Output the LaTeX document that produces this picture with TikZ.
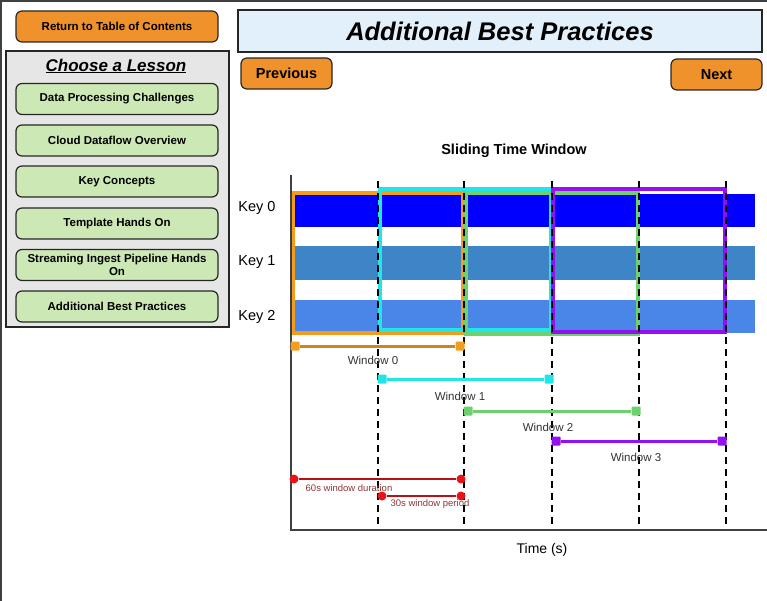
\documentclass[tikz,border=0pt]{standalone}
\usepackage{fontspec}
\setmainfont{Liberation Sans}

\definecolor{arancio}{HTML}{F0922B}
\definecolor{verdino}{HTML}{CCE8B5}
\definecolor{grigino}{HTML}{E6E6E6}
\definecolor{azzurrino}{HTML}{E2F0FB}
\definecolor{chiave0}{HTML}{0000FF}
\definecolor{chiave1}{HTML}{3D85C6}
\definecolor{chiave2}{HTML}{4A86E8}
\definecolor{fin0}{HTML}{F39C1E}
\definecolor{fin1}{HTML}{22E5EA}
\definecolor{fin2}{HTML}{6DD170}
\definecolor{fin3}{HTML}{9410F0}
\definecolor{rosso}{HTML}{E8141A}
\definecolor{rossoscuro}{HTML}{8E3434}

\begin{document}
\begin{tikzpicture}[x=1pt, y=-1pt]
				% Stili della pagina
				\tikzset{bottone/.style={draw=black!85, line width=1.2pt, rounded corners=6pt, align=center, inner sep=0pt, minimum width=202pt, minimum height=31pt, font=\bfseries\fontsize{11.5}{13}\selectfont},
					lezione/.style={bottone, fill=verdino},
					navig/.style={bottone, fill=arancio, minimum width=91pt, font=\bfseries\fontsize{14.5}{16}\selectfont},
					finestra/.style={line width=4.2pt, line join=miter},
					estremo/.style={rectangle, rounded corners=1pt, minimum size=9pt, inner sep=0pt},
					pallino/.style={circle, fill=rosso, minimum size=9pt, inner sep=0pt},
					etfin/.style={text=black!80, font=\fontsize{11.5}{13}\selectfont},
					etrosso/.style={text=rossoscuro, font=\fontsize{9.5}{11}\selectfont, inner sep=0pt}}
				
				\useasboundingbox (0,0) rectangle (767,601);
				
				% Bordi della finestra
				\draw[line width=2.5pt, black!75] (1,601) -- (1,1) -- (767,1);
				
				% Colonna di sinistra
				\node[bottone, fill=arancio] (ritorno) at (117,26.5) {Return to Table of Contents};
				\node[draw=black!85, line width=1.8pt, fill=grigino, minimum width=223pt, minimum height=276pt, inner sep=0pt] (pannello) at (117.5,189) {};
				\node[font=\bfseries\itshape\fontsize{17}{19}\selectfont] (scegli) at (116,66) {\underline{Choose a Lesson}};
				\node[lezione] (lez1) at (117,99) {Data Processing Challenges};
				\node[lezione] (lez2) at (117,140.5) {Cloud Dataflow Overview};
				\node[lezione] (lez3) at (117,181.5) {Key Concepts};
				\node[lezione] (lez4) at (117,223.5) {Template Hands On};
				\node[lezione] (lez5) at (117,265) {Streaming Ingest Pipeline Hands\\On};
				\node[lezione] (lez6) at (117,306.5) {Additional Best Practices};
				
				% Intestazione
				\node[draw=black!85, line width=1.5pt, fill=azzurrino, minimum width=524pt, minimum height=42pt, font=\bfseries\itshape\fontsize{25.5}{28}\selectfont] (titolo) at (500,31) {Additional Best Practices};
				\node[navig] (prec) at (286.5,73.5) {Previous};
				\node[navig] (succ) at (716.5,74.5) {Next};
				
				% Grafico: finestra temporale scorrevole
				\node[font=\bfseries\fontsize{14.5}{16}\selectfont] (titgraf) at (514,151) {Sliding Time Window};
				
				\fill[chiave0] (293,194) rectangle (755,227);
				\fill[chiave1] (293,246) rectangle (755,280);
				\fill[chiave2] (293,300) rectangle (755,333);
				\node[font=\fontsize{14.5}{16}\selectfont] (k0) at (257,208) {Key 0};
				\node[font=\fontsize{14.5}{16}\selectfont] (k1) at (257,262) {Key 1};
				\node[font=\fontsize{14.5}{16}\selectfont] (k2) at (257,317) {Key 2};
				
				% Riquadri delle finestre
				\draw[finestra, fin0] (292.5,193) rectangle (463,333);
				\draw[finestra, fin1] (380,189) rectangle (551,330);
				\draw[finestra, fin2] (466,193) rectangle (638,334);
				\draw[finestra, fin3] (553,189) rectangle (725,332);
				
				% Assi
				\draw[line width=2pt, black!75] (291,175) -- (291,530) -- (767,530);
				\node[font=\fontsize{14}{16}\selectfont] (tempo) at (542,550) {Time (s)};
				
				% Linee tratteggiate ogni 30s
				\draw[line width=1.8pt, dash pattern=on 7pt off 5pt] (378,181) -- (378,526);
				\draw[line width=1.8pt, dash pattern=on 7pt off 5pt] (464,181) -- (464,526);
				\draw[line width=1.8pt, dash pattern=on 7pt off 5pt] (552,181) -- (552,526);
				\draw[line width=1.8pt, dash pattern=on 7pt off 5pt] (639,181) -- (639,526);
				\draw[line width=1.8pt, dash pattern=on 7pt off 5pt] (726,181) -- (726,526);
				
				% Durata delle finestre
				\node[estremo, fill=fin0] (a0) at (295,346) {};
				\node[estremo, fill=fin0] (b0) at (460,346) {};
				\draw[fin0!85!black, line width=3pt] (a0) -- (b0);
				\node[etfin] (w0) at (373,360) {Window 0};
				
				\node[estremo, fill=fin1] (a1) at (382,379) {};
				\node[estremo, fill=fin1] (b1) at (549,379) {};
				\draw[fin1, line width=3pt] (a1) -- (b1);
				\node[etfin] (w1) at (460,396) {Window 1};
				
				\node[estremo, fill=fin2] (a2) at (468,411) {};
				\node[estremo, fill=fin2] (b2) at (636,411) {};
				\draw[fin2, line width=3pt] (a2) -- (b2);
				\node[etfin] (w2) at (548,427) {Window 2};
				
				\node[estremo, fill=fin3] (a3) at (556,441) {};
				\node[estremo, fill=fin3] (b3) at (722,441) {};
				\draw[fin3, line width=3pt] (a3) -- (b3);
				\node[etfin] (w3) at (636,457) {Window 3};
				
				% Durata e periodo
				\node[pallino] (d0) at (294,479) {};
				\node[pallino] (d1) at (461,479) {};
				\draw[rosso!80!black, line width=1.8pt] (d0) -- (d1);
				\node[etrosso] (durata) at (349,488) {60s window duration};
				
				\node[pallino] (p0) at (382,496) {};
				\node[pallino] (p1) at (461,496) {};
				\draw[rosso!80!black, line width=1.8pt] (p0) -- (p1);
				\node[etrosso] (periodo) at (430,504) {30s window period};
				
			\end{tikzpicture}
\end{document}
